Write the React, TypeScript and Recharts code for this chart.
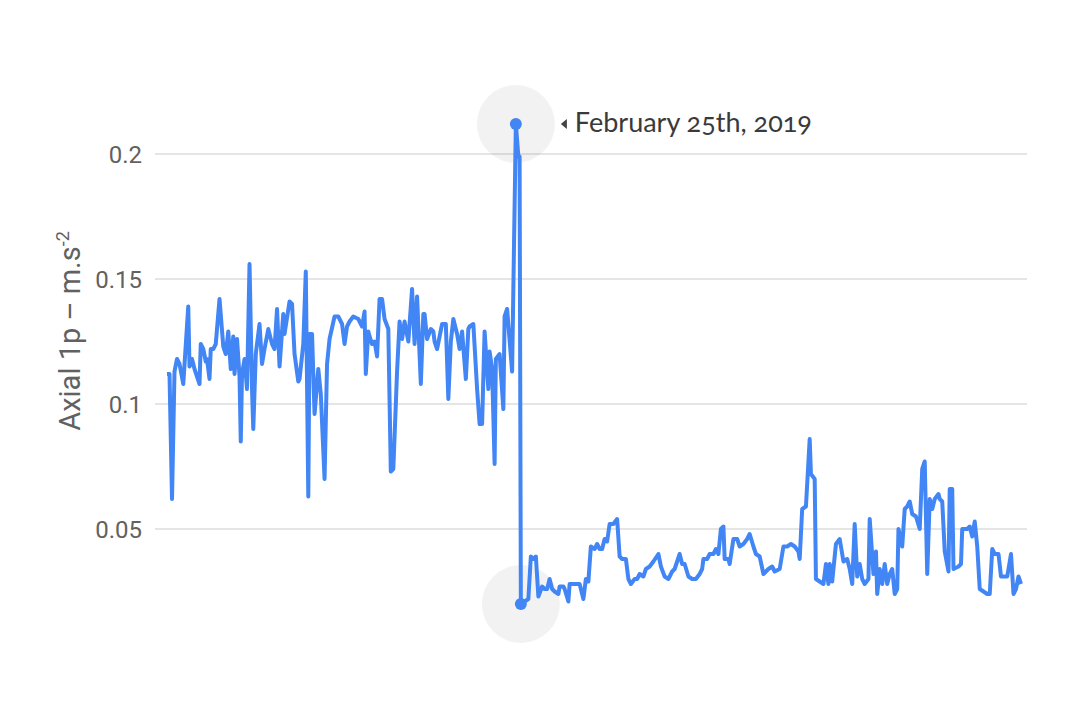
import { LineChart, Line, XAxis, YAxis, CartesianGrid, ReferenceDot } from 'recharts'

// sample time (days from first reading) and axial 1p acceleration (m.s-2)
const days = [
  0, 1, 2, 3, 4, 5, 6.5, 8.5, 9, 10, 11, 13, 13.5, 14.5, 15.5, 16, 17, 17.5, 18.5, 19.5,
  21, 22.5, 23.5, 24.5, 25.5, 26.5, 27, 28, 29, 29.5, 30, 31, 32, 33, 34, 34.5, 35.5, 37, 38, 39,
  40.5, 42, 43, 44, 45, 46.5, 47, 49, 50, 51, 52.5, 53, 54.5, 55.5, 56.5, 57, 58, 59, 60.5, 61.5,
  63, 64, 65, 67, 68.5, 70, 71, 72, 73, 74.5, 76.5, 78, 79, 79.5, 80.5, 81, 82, 83, 84, 85,
  86, 87, 88.5, 89.5, 90.5, 92, 93, 94, 95, 96.5, 98, 99, 100, 101.5, 102.5, 103, 104, 105.5, 106.5, 107,
  108, 110, 111.5, 112.5, 113.5, 114.5, 116, 117, 118, 119.5, 120.5, 121, 122.5, 124, 125, 126, 127, 128.5, 129, 130,
  131, 131.5, 133, 134.5, 135, 136, 138, 139.5, 140.5, 141, 141.5, 143, 144.5, 145.5, 146.5, 147.5, 148.5, 150, 151, 152,
  153, 154, 155, 156.5, 157, 158.5, 159, 160.5, 161, 162.5, 164, 165, 166.5, 167.5, 168.5, 169.5, 171, 172, 173, 174,
  175, 176, 177, 178.5, 180, 181, 182, 183.5, 184.5, 185.5, 187, 188, 189, 190.5, 191.5, 193, 194.5, 196.5, 197.5, 199,
  200.5, 202, 203, 205, 206, 207, 208.5, 210, 211.5, 213, 214, 214.5, 216, 217, 218.5, 219.5, 220.5, 221.5, 222.5, 223,
  224.5, 225, 226.5, 228, 229, 230.5, 232, 233, 234.5, 235.5, 237, 238.5, 240.5, 242, 243, 245, 246.5, 248, 249.5, 251,
  252.5, 253, 254, 255.5, 257, 257.5, 259, 259.5, 261, 262.5, 263.5, 264.5, 265, 266, 267.5, 269, 270.5, 272, 273, 274,
  275, 276, 277, 278, 279, 280.5, 281, 282.5, 283.5, 284, 285, 286, 287, 288, 289, 290, 291, 292, 292.5, 294,
  295, 296, 297, 298, 299.5, 301, 302, 303, 304, 305, 306, 307, 308.5, 309, 310, 311, 312.5, 313, 314, 314.5,
  316.5, 317.5, 318, 320, 321, 322, 323, 324, 325, 326.5, 328, 329, 330, 331, 332.5, 333.5, 335, 336, 337.5, 338.5,
  339.5, 340.5, 341.5,
]

const values = [
  0.112, 0.112, 0.062, 0.113, 0.118, 0.116, 0.108, 0.139, 0.115, 0.118, 0.114, 0.108, 0.124, 0.122, 0.117, 0.118, 0.11, 0.122, 0.122, 0.124,
  0.142, 0.123, 0.12, 0.129, 0.114, 0.127, 0.112, 0.126, 0.111, 0.085, 0.112, 0.118, 0.106, 0.156, 0.106, 0.09, 0.12, 0.132, 0.116, 0.122,
  0.13, 0.124, 0.122, 0.138, 0.115, 0.136, 0.128, 0.141, 0.14, 0.12, 0.109, 0.11, 0.124, 0.153, 0.063, 0.128, 0.128, 0.096, 0.114, 0.104,
  0.07, 0.116, 0.126, 0.135, 0.135, 0.132, 0.124, 0.131, 0.133, 0.135, 0.134, 0.131, 0.137, 0.112, 0.129, 0.127, 0.124, 0.125, 0.119, 0.142,
  0.142, 0.134, 0.13, 0.073, 0.074, 0.113, 0.133, 0.126, 0.133, 0.125, 0.146, 0.124, 0.143, 0.108, 0.136, 0.136, 0.126, 0.13, 0.129, 0.125,
  0.122, 0.132, 0.132, 0.102, 0.125, 0.134, 0.128, 0.122, 0.129, 0.11, 0.13, 0.131, 0.132, 0.106, 0.092, 0.092, 0.129, 0.106, 0.121, 0.114,
  0.076, 0.118, 0.12, 0.098, 0.135, 0.138, 0.113, 0.212, 0.199, 0.199, 0.02, 0.021, 0.022, 0.039, 0.038, 0.039, 0.023, 0.027, 0.026, 0.026,
  0.03, 0.026, 0.025, 0.024, 0.027, 0.027, 0.026, 0.021, 0.028, 0.028, 0.028, 0.028, 0.022, 0.03, 0.029, 0.043, 0.042, 0.044, 0.042, 0.042,
  0.046, 0.045, 0.052, 0.052, 0.054, 0.039, 0.038, 0.038, 0.03, 0.028, 0.03, 0.03, 0.032, 0.031, 0.034, 0.035, 0.037, 0.04, 0.035, 0.031,
  0.03, 0.033, 0.034, 0.04, 0.036, 0.036, 0.031, 0.03, 0.03, 0.032, 0.034, 0.038, 0.038, 0.04, 0.04, 0.042, 0.04, 0.05, 0.051, 0.038,
  0.038, 0.036, 0.046, 0.046, 0.043, 0.044, 0.046, 0.048, 0.043, 0.04, 0.039, 0.032, 0.034, 0.035, 0.033, 0.034, 0.043, 0.043, 0.044, 0.043,
  0.041, 0.038, 0.058, 0.059, 0.086, 0.072, 0.07, 0.03, 0.029, 0.028, 0.036, 0.028, 0.036, 0.029, 0.044, 0.046, 0.037, 0.038, 0.034, 0.028,
  0.052, 0.031, 0.036, 0.03, 0.028, 0.03, 0.054, 0.032, 0.041, 0.024, 0.034, 0.028, 0.036, 0.028, 0.032, 0.034, 0.024, 0.026, 0.05, 0.043,
  0.058, 0.059, 0.061, 0.056, 0.055, 0.05, 0.074, 0.077, 0.032, 0.062, 0.058, 0.062, 0.064, 0.062, 0.061, 0.041, 0.033, 0.066, 0.066, 0.034,
  0.035, 0.036, 0.05, 0.05, 0.051, 0.047, 0.053, 0.043, 0.026, 0.025, 0.024, 0.024, 0.042, 0.04, 0.04, 0.031, 0.031, 0.031, 0.04, 0.024,
  0.026, 0.031, 0.028,
]

const yTicks = [0.05, 0.1, 0.15, 0.2]
const peakLabel = 'February 25th, 2019'

const data = days.map((d, i) => ({ day: d, value: values[i] }))

const peakIdx = values.indexOf(Math.max(...values))
const lowIdx = values.indexOf(Math.min(...values))

const BLUE = '#4285f4'

const AxisTitle = () => (
  <text
    transform="translate(80, 331) rotate(-90)"
    textAnchor="middle"
    fill="#616161"
    fontSize={29}
    fontFamily="Roboto"
  >
    Axial 1p – m.s
    <tspan dy={-11} fontSize={18}>-2</tspan>
  </text>
)

const PeakLabel = ({ viewBox }: any) => {
  const cx = viewBox.x + viewBox.width / 2
  const cy = viewBox.y + viewBox.height / 2
  return (
    <g>
      <path d={`M${cx + 45},${cy} L${cx + 51},${cy - 5} L${cx + 51},${cy + 5} Z`} fill="#444" />
      <text
        x={cx + 59}
        y={cy + 8}
        fill="#3a3a3a"
        fontSize={27}
        fontFamily="Lato"
        style={{ fontVariantNumeric: 'oldstyle-nums' }}
      >
        {peakLabel}
      </text>
    </g>
  )
}

export default function App() {
  return (
    <div style={{ position: 'absolute', left: 0, top: 0, width: 1080, height: 704, background: '#fff', fontFamily: 'Roboto' }}>
      <LineChart width={1080} height={704} data={data} margin={{ top: 104, right: 53, bottom: 50, left: 0 }}>
        <CartesianGrid vertical={false} stroke="#dcdcdc" strokeWidth={1.5} syncWithTicks />
        <XAxis dataKey="day" type="number" domain={[0, 341.5]} padding={{ left: 12, right: 6 }} hide />
        <YAxis
          width={155}
          domain={[0, 0.22]}
          ticks={yTicks}
          axisLine={false}
          tickLine={false}
          tickMargin={7}
          tick={{ fill: '#616161', fontSize: 24, fontFamily: 'Roboto' }}
          label={{ content: () => <AxisTitle /> }}
        />
        {/* soft halos behind the peak and the drop after it */}
        <ReferenceDot x={days[peakIdx]} y={values[peakIdx]} r={39} fill="#000" fillOpacity={0.052} stroke="none" zIndex={-50} />
        <ReferenceDot x={days[lowIdx]} y={values[lowIdx]} r={39} fill="#000" fillOpacity={0.052} stroke="none" zIndex={-50} />
        <Line
          type="linear"
          dataKey="value"
          stroke={BLUE}
          strokeWidth={4}
          strokeLinejoin="round"
          dot={false}
          activeDot={false}
          isAnimationActive={false}
        />
        <ReferenceDot x={days[lowIdx]} y={values[lowIdx]} r={6} fill={BLUE} stroke="none" />
        <ReferenceDot
          x={days[peakIdx]}
          y={values[peakIdx]}
          r={6}
          fill={BLUE}
          stroke="none"
          label={{ content: (p: any) => <PeakLabel {...p} /> }}
        />
      </LineChart>
    </div>
  )
}
